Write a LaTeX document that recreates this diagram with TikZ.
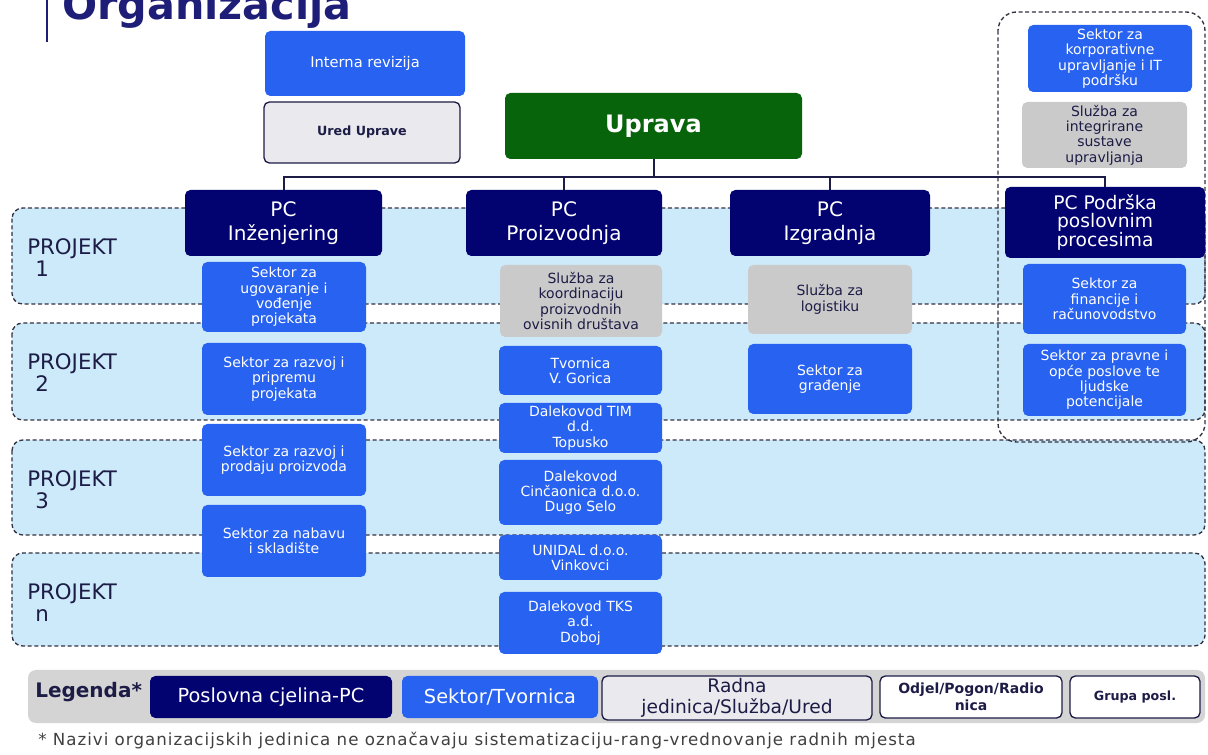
\documentclass[tikz,border=0pt]{standalone}
\usepackage{fontspec}
\setmainfont{DejaVu Sans}
\usetikzlibrary{positioning}
\definecolor{pcnavy}{RGB}{2,2,112}
\definecolor{sekblue}{RGB}{40,98,240}
\definecolor{slugray}{RGB}{202,202,202}
\definecolor{uredgray}{RGB}{234,234,238}
\definecolor{upgreen}{RGB}{8,100,10}
\definecolor{bandblue}{RGB}{205,234,251}
\definecolor{dashgray}{RGB}{50,50,65}
\definecolor{textnavy}{RGB}{28,28,70}
\definecolor{titlenavy}{RGB}{30,30,120}
\definecolor{legbargray}{RGB}{212,212,212}
\newcommand\boxfont{\fontsize{10.5}{11.5}\selectfont}
\tikzset{
  box/.style={rounded corners=4pt,align=center,inner sep=1pt,font=\boxfont},
  sz/.style 2 args={minimum width=#1*0.75pt,minimum height=#2*0.75pt},
  pcbox/.style={box,fill=pcnavy,text=white,font=\fontsize{15}{18}\selectfont},
  sekbox/.style={box,fill=sekblue,text=white},
  slubox/.style={box,fill=slugray,text=textnavy},
  legbox/.style={box,font=\fontsize{14.5}{15}\selectfont},
  band/.style={fill=bandblue,draw=dashgray,line width=1pt,dash pattern=on 3pt off 2pt,rounded corners=8pt},
  conn/.style={draw=textnavy,line width=1.5pt}
}
\begin{document}
\begin{tikzpicture}[x=0.75pt,y=-0.75pt]
\useasboundingbox[fill=white] (0,0) rectangle (1208,755);
\draw[titlenavy,line width=1.5pt] (47,0) -- (47,42);
\node[anchor=base west,inner sep=0,text=titlenavy,font=\fontsize{31}{31}\selectfont\bfseries] (title) at (62,20) {Organizacija};
\foreach \yt/\yb/\pn in {208/304/1,323/420/2,440/535/3,553/646/n}{
  \draw[band] (12,\yt) rectangle (1205,\yb);
  \node[anchor=north west,align=left,inner sep=0,text=textnavy,font=\fontsize{16}{16.5}\selectfont] (proj\pn) at (27,\yt+30) {PROJEKT\\\hspace*{6pt}\pn};
}
\draw[draw=dashgray,line width=1pt,dash pattern=on 3pt off 2pt,rounded corners=14pt] (998,12) rectangle (1205,442);
\node[sekbox,sz={200}{65},font=\fontsize{11}{12}\selectfont] (intrev) at (365,63.5) {Interna revizija};
\node[box,sz={196}{61},fill=uredgray,draw=textnavy,line width=1pt,text=textnavy,font=\fontsize{9.5}{11}\selectfont\bfseries] (ured) at (362,132.5) {Ured Uprave};
\node[box,sz={297}{66},fill=upgreen,text=white,font=\fontsize{18}{20}\selectfont\bfseries] (uprava) at (653.5,126) {Uprava};
\node[pcbox,sz={197}{66}] (pcinz) at (283.5,223) {PC\\Inženjering};
\node[pcbox,sz={196}{66}] (pcpro) at (564,223) {PC\\Proizvodnja};
\node[pcbox,sz={200}{66}] (pcizg) at (830,223) {PC\\Izgradnja};
\node[pcbox,sz={200}{71},font=\fontsize{14}{13.5}\selectfont] (pcpod) at (1105,222.5) {PC Podrška\\poslovnim\\procesima};
\coordinate (bus) at (653.5,177);
\draw[conn] (uprava.south) -- (uprava.south |- bus);
\draw[conn] (pcinz.north) |- (pcpod.north |- bus) -- (pcpod.north);
\draw[conn] (pcpro.north) -- (pcpro.north |- bus);
\draw[conn] (pcizg.north) -- (pcizg.north |- bus);
\node[sekbox,sz={164}{70}] (sekugo) at (284,297) {Sektor za\\ugovaranje i\\vođenje\\projekata};
\node[sekbox,sz={164}{72}] (sekpri) at (284,379) {Sektor za razvoj i\\pripremu\\projekata};
\node[sekbox,sz={164}{72}] (sekpro) at (284,460) {Sektor za razvoj i\\prodaju proizvoda};
\node[sekbox,sz={164}{72}] (seknab) at (284,541) {Sektor za nabavu\\i skladište};
\node[slubox,sz={162}{72}] (slukoo) at (581,301) {Služba za\\koordinaciju\\proizvodnih\\ovisnih društava};
\node[sekbox,sz={163}{49}] (tvogor) at (580.5,370.5) {Tvornica\\V. Gorica};
\node[sekbox,sz={163}{50}] (daltim) at (580.5,428) {Dalekovod TIM\\d.d.\\Topusko};
\node[sekbox,sz={163}{65}] (dalcin) at (580.5,492.5) {Dalekovod\\Cinčaonica d.o.o.\\Dugo Selo};
\node[sekbox,sz={163}{45}] (unidal) at (580.5,557.5) {UNIDAL d.o.o.\\Vinkovci};
\node[sekbox,sz={163}{62}] (daltks) at (580.5,623) {Dalekovod TKS\\a.d.\\Doboj};
\node[slubox,sz={164}{69}] (slulog) at (830,299.5) {Služba za\\logistiku};
\node[sekbox,sz={164}{70}] (sekgra) at (830,379) {Sektor za\\građenje};
\node[sekbox,sz={164}{67}] (sekkor) at (1110,58.5) {Sektor za\\korporativne\\upravljanje i IT\\podršku};
\node[slubox,sz={165}{66}] (sluint) at (1104.5,135) {Služba za\\integrirane\\sustave\\upravljanja};
\node[sekbox,sz={163}{70}] (sekfin) at (1104.5,299) {Sektor za\\financije i\\računovodstvo};
\node[sekbox,sz={163}{72}] (sekpra) at (1104.5,380) {Sektor za pravne i\\opće poslove te\\ljudske\\potencijale};
\node[box,sz={1177}{53},fill=legbargray,rounded corners=6pt] (legbar) at (616.5,696.5) {};
\node[anchor=west,inner sep=0,text=textnavy,font=\fontsize{15}{16}\selectfont\bfseries] (legenda) at (35,692) {Legenda*};
\node[legbox,sz={242}{42},fill=pcnavy,text=white] (legpc) at (271,697) {Poslovna cjelina-PC};
\node[legbox,sz={196}{42},fill=sekblue,text=white] (legsek) at (500,697) {Sektor/Tvornica};
\node[legbox,sz={270}{44},fill=uredgray,draw=textnavy,line width=1pt,text=textnavy,font=\fontsize{14}{15.5}\selectfont] (legrad) at (737,698) {Radna\\jedinica/Služba/Ured};
\node[legbox,sz={182}{42},fill=white,draw=textnavy,line width=1pt,text=textnavy,font=\fontsize{10.5}{13}\selectfont\bfseries] (legodj) at (971,697) {Odjel/Pogon/Radio\\nica};
\node[legbox,sz={130}{42},fill=white,draw=textnavy,line width=1pt,text=textnavy,font=\fontsize{9.5}{11}\selectfont\bfseries] (leggrp) at (1135,697) {Grupa posl.};
\node[anchor=base west,inner sep=0,text=black!75,font=\fontsize{12.5}{12.5}\selectfont\addfontfeatures{LetterSpace=6}] (napomena) at (38,745) {* Nazivi organizacijskih jedinica ne označavaju sistematizaciju-rang-vrednovanje radnih mjesta};
\end{tikzpicture}
\end{document}
